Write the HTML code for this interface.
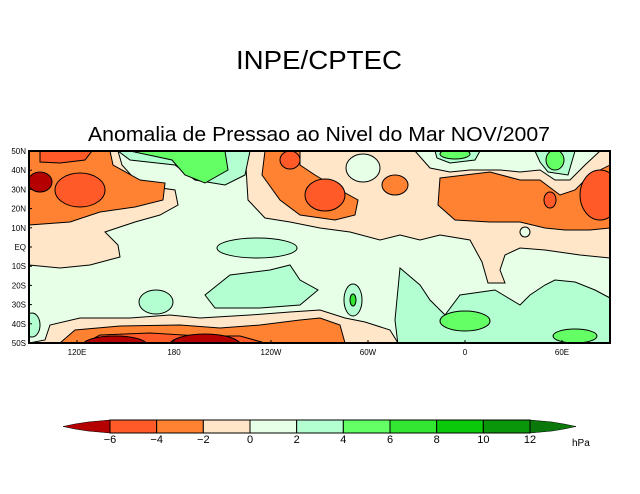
<!DOCTYPE html>
<html><head><meta charset="utf-8"><style>
body{margin:0;background:#fff;width:640px;height:494px;overflow:hidden;font-family:"Liberation Sans",sans-serif}
svg{display:block}
</style></head><body>
<svg id="chart" width="640" height="494">
<text x="319" y="69" text-anchor="middle" font-size="26" font-family="Liberation Sans" textLength="166" lengthAdjust="spacingAndGlyphs">INPE/CPTEC</text>
<text x="319" y="141" text-anchor="middle" font-size="20" font-family="Liberation Sans" textLength="462" lengthAdjust="spacingAndGlyphs">Anomalia de Pressao ao Nivel do Mar NOV/2007</text>
<defs><clipPath id="mc"><rect x="29" y="151" width="581" height="192"/></clipPath></defs>
<g id="map" clip-path="url(#mc)" stroke="#000" stroke-width="1">
<rect x="29" y="151" width="581" height="192" fill="#e6ffe6" stroke="none"/>
<polygon fill="#ffe6c8" points="29,151 118,151 122,165 140,185 175,190 178,205 160,215 135,222 105,232 118,245 120,257 90,265 60,268 29,265"/>
<polygon fill="#ffe6c8" points="245,151 415,151 430,168 450,172 470,170 500,170 520,172 540,170 555,180 570,180 585,165 600,151 610,151 610,258 580,255 545,250 520,248 505,255 500,270 505,283 488,283 482,262 470,240 440,235 420,240 400,235 380,240 350,232 320,228 290,222 265,218 248,200"/>
<polygon fill="#ffe6c8" points="29,343 45,340 50,325 80,318 130,318 170,315 200,318 250,315 290,312 320,310 345,318 365,322 390,330 398,343"/>
<ellipse cx="363" cy="168" rx="17" ry="14" fill="#e6ffe6"/>
<ellipse cx="525" cy="232" rx="5" ry="5" fill="#e6ffe6"/>
<polygon fill="#ff8232" points="29,151 110,151 113,165 140,180 165,183 163,200 135,207 100,212 70,222 29,225"/>
<polygon fill="#ff8232" points="265,151 300,151 300,165 315,175 340,190 358,200 355,215 335,220 300,215 280,200 262,175"/>
<ellipse cx="395" cy="185" rx="13" ry="10" fill="#ff8232"/>
<polygon fill="#ff8232" points="440,178 490,172 520,180 540,180 560,195 575,190 590,175 610,165 610,228 590,230 565,230 545,228 520,222 490,222 455,220 438,205"/>
<polygon fill="#ff8232" points="60,343 75,330 120,326 180,325 220,328 260,325 300,320 320,318 340,325 345,343"/>
<polygon fill="#ff5a28" points="40,151 92,151 85,160 60,163 40,162"/>
<ellipse cx="80" cy="190" rx="25" ry="17" fill="#ff5a28"/>
<ellipse cx="325" cy="195" rx="20" ry="16" fill="#ff5a28"/>
<ellipse cx="600" cy="195" rx="20" ry="25" fill="#ff5a28"/>
<ellipse cx="550" cy="200" rx="6" ry="8" fill="#ff5a28"/>
<ellipse cx="290" cy="160" rx="10" ry="9" fill="#ff5a28"/>
<polygon fill="#ff5a28" points="85,343 100,335 150,333 200,336 240,336 265,343"/>
<ellipse cx="40" cy="182" rx="12" ry="10" fill="#b40000"/>
<ellipse cx="115" cy="345" rx="32" ry="9" fill="#b40000"/>
<ellipse cx="205" cy="346" rx="36" ry="12" fill="#b40000"/>
<polygon fill="#b4ffd2" points="118,151 250,151 245,175 225,185 195,180 175,165 130,160"/>
<polygon fill="#b4ffd2" points="435,151 480,151 475,160 450,163 437,158"/>
<polygon fill="#b4ffd2" points="535,151 575,151 568,175 548,172 540,162"/>
<ellipse cx="257" cy="248" rx="40" ry="10" fill="#b4ffd2"/>
<polygon fill="#b4ffd2" points="205,295 230,275 270,270 290,265 300,280 318,290 300,305 260,308 215,308"/>
<ellipse cx="156" cy="302" rx="17" ry="12" fill="#b4ffd2"/>
<polygon fill="#b4ffd2" points="400,268 420,285 430,300 445,315 460,295 495,290 520,305 530,295 545,285 555,280 575,282 595,290 610,298 610,345 398,345 395,320"/>
<ellipse cx="353" cy="300" rx="9" ry="16" fill="#b4ffd2"/>
<ellipse cx="32" cy="325" rx="8" ry="12" fill="#b4ffd2"/>
<polygon fill="#64ff64" points="130,151 225,151 228,170 205,183 185,175 172,160"/>
<ellipse cx="455" cy="154" rx="15" ry="5" fill="#64ff64"/>
<ellipse cx="555" cy="160" rx="9" ry="10" fill="#64ff64"/>
<ellipse cx="465" cy="321" rx="25" ry="10" fill="#64ff64"/>
<ellipse cx="575" cy="336" rx="22" ry="7" fill="#64ff64"/>
<ellipse cx="353" cy="300" rx="3" ry="6" fill="#32e632"/>
</g>
<rect x="29" y="151" width="581" height="192" fill="none" stroke="#000" stroke-width="2"/>
<g id="axes" font-size="8" font-family="Liberation Sans"></g>
<g id="cbar"></g>
<text x="572" y="446" font-size="10" font-family="Liberation Sans">hPa</text>
</svg>
<script>
const latLabels=["50N","40N","30N","20N","10N","EQ","10S","20S","30S","40S","50S"];
const lonLabels=["120E","180","120W","60W","0","60E"];
const lonValues=[120,180,240,300,360,420];
const levels=[-6,-4,-2,0,2,4,6,8,10,12];
const levelColors=["#ff5a28","#ff8232","#ffe6c8","#e6ffe6","#b4ffd2","#64ff64","#32e632","#0ac80a","#0a960a"];
const ns="http://www.w3.org/2000/svg";
function mk(t,a){const e=document.createElementNS(ns,t);for(const k in a)e.setAttribute(k,a[k]);return e;}
const lonX=l=>28.5+(l-90)*97/60;
const latY=i=>151+i*19.2;
const ax=document.getElementById('axes');
latLabels.forEach((s,i)=>{const t=mk('text',{x:26,y:latY(i)+3,'text-anchor':'end'});t.textContent=s;


ax.appendChild(t);
const k=mk('line',{x1:29,x2:32,y1:latY(i),y2:latY(i),stroke:'#000'});


ax.appendChild(k);});
lonLabels.forEach((s,i)=>{const x=lonX(lonValues[i]);const t=mk('text',{x:x,y:355,'text-anchor':'middle'});t.textContent=s;


ax.appendChild(t);
const k=mk('line',{x1:x,x2:x,y1:343,y2:340,stroke:'#000'});


ax.appendChild(k);});
const cb=document.getElementById('cbar');
const cx0=110,cx1=530,cy0=420,cy1=433;
const sx=v=>cx0+(v-levels[0])*(cx1-cx0)/(levels[levels.length-1]-levels[0]);
const lt=mk('polygon',{points:`${cx0},${cy0} ${cx0},${cy1} 88,${cy1-2} 75,${cy1-4} 63,${(cy0+cy1)/2} 75,${cy0+4} 88,${cy0+2}`,fill:'#b40000',stroke:'#000','stroke-width':0.5});


cb.appendChild(lt);
const rt=mk('polygon',{points:`${cx1},${cy0} ${cx1},${cy1} 552,${cy1-2} 564,${cy1-4} 576,${(cy0+cy1)/2} 564,${cy0+4} 552,${cy0+2}`,fill:'#0a780a',stroke:'#000','stroke-width':0.5});


cb.appendChild(rt);
for(let i=0;i<levels.length-1;i++){const r=mk('rect',{x:sx(levels[i]),y:cy0,width:sx(levels[i+1])-sx(levels[i]),height:cy1-cy0,fill:levelColors[i],stroke:'#000','stroke-width':1});


cb.appendChild(r);}
levels.forEach(v=>{const t=mk('text',{x:sx(v),y:443,'text-anchor':'middle','font-size':11,'font-family':'Liberation Sans'});t.textContent=v<0?'\u2212'+(-v):String(v);


cb.appendChild(t);});
</script>
</body></html>
